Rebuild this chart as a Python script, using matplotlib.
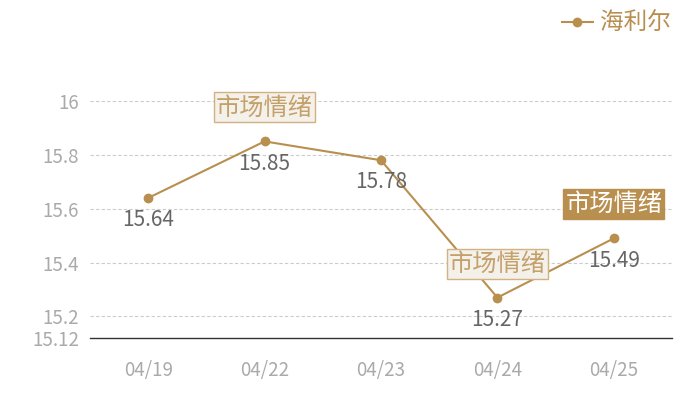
import matplotlib
matplotlib.use("Agg")
import matplotlib.pyplot as plt

plt.rcParams['font.family'] = ['Noto Sans CJK SC', 'DejaVu Sans']

dates = ["04/19", "04/22", "04/23", "04/24", "04/25"]
values = [15.64, 15.85, 15.78, 15.27, 15.49]
series_name = "海利尔"
yticks = [15.12, 15.2, 15.4, 15.6, 15.8, 16.0]
ytick_labels = ["15.12", "15.2", "15.4", "15.6", "15.8", "16"]
note_text = "市场情绪"
note_idx = [1, 3]
note_dark_idx = [4]

gold = "#b88f4f"

fig = plt.figure(figsize=(7, 4), dpi=100)
ax = fig.add_axes([90/700, 62/400, 582/700, 237/400])
x = list(range(len(dates)))
ax.plot(x, values, color=gold, lw=1.5, marker='o', ms=6, label=series_name, zorder=3)

ax.set_xlim(-0.5, len(dates) - 0.5)
ax.set_ylim(15.12, 16.0)
ax.set_yticks(yticks)
ax.set_yticklabels(ytick_labels)
ax.set_xticks(x)
ax.set_xticklabels(dates)
ax.tick_params(axis='both', length=0, colors="#aaaaaa", labelsize=13.5)
ax.tick_params(axis='x', pad=16)
ax.tick_params(axis='y', pad=8)
for s in ['top', 'right', 'left']:
    ax.spines[s].set_visible(False)
ax.spines['bottom'].set_color("#333333")
ax.spines['bottom'].set_linewidth(1)
for t in yticks[1:]:
    ax.axhline(t, color="#cccccc", lw=0.8, ls=(0, (3, 2)), zorder=1)

for xi, v in zip(x, values):
    ax.annotate(f"{v:.2f}", (xi, v), xytext=(0, -16), textcoords='offset points',
                ha='center', va='center', fontsize=15, color="#666666", zorder=4)

for i in note_idx:
    ax.annotate(note_text, (i, values[i]), xytext=(0, 24.5), textcoords='offset points',
                ha='center', va='center', fontsize=17.5, color="#c4a06a", zorder=5,
                annotation_clip=False,
                bbox=dict(boxstyle='square,pad=0.08', fc="#f4f0ea", ec="#d2b282", lw=1))
for i in note_dark_idx:
    ax.annotate(note_text, (i, values[i]), xytext=(0, 24.5), textcoords='offset points',
                ha='center', va='center', fontsize=17.5, color="white", zorder=5,
                annotation_clip=False,
                bbox=dict(boxstyle='square,pad=0.08', fc=gold, ec=gold, lw=1))

leg = fig.legend(loc='upper right', bbox_to_anchor=(0.975, 1.0), frameon=False,
                 fontsize=17, handlelength=1.3, handletextpad=0.3, borderaxespad=0.1)
for t in leg.get_texts():
    t.set_color(gold)

fig.savefig("out.png", dpi=100)
